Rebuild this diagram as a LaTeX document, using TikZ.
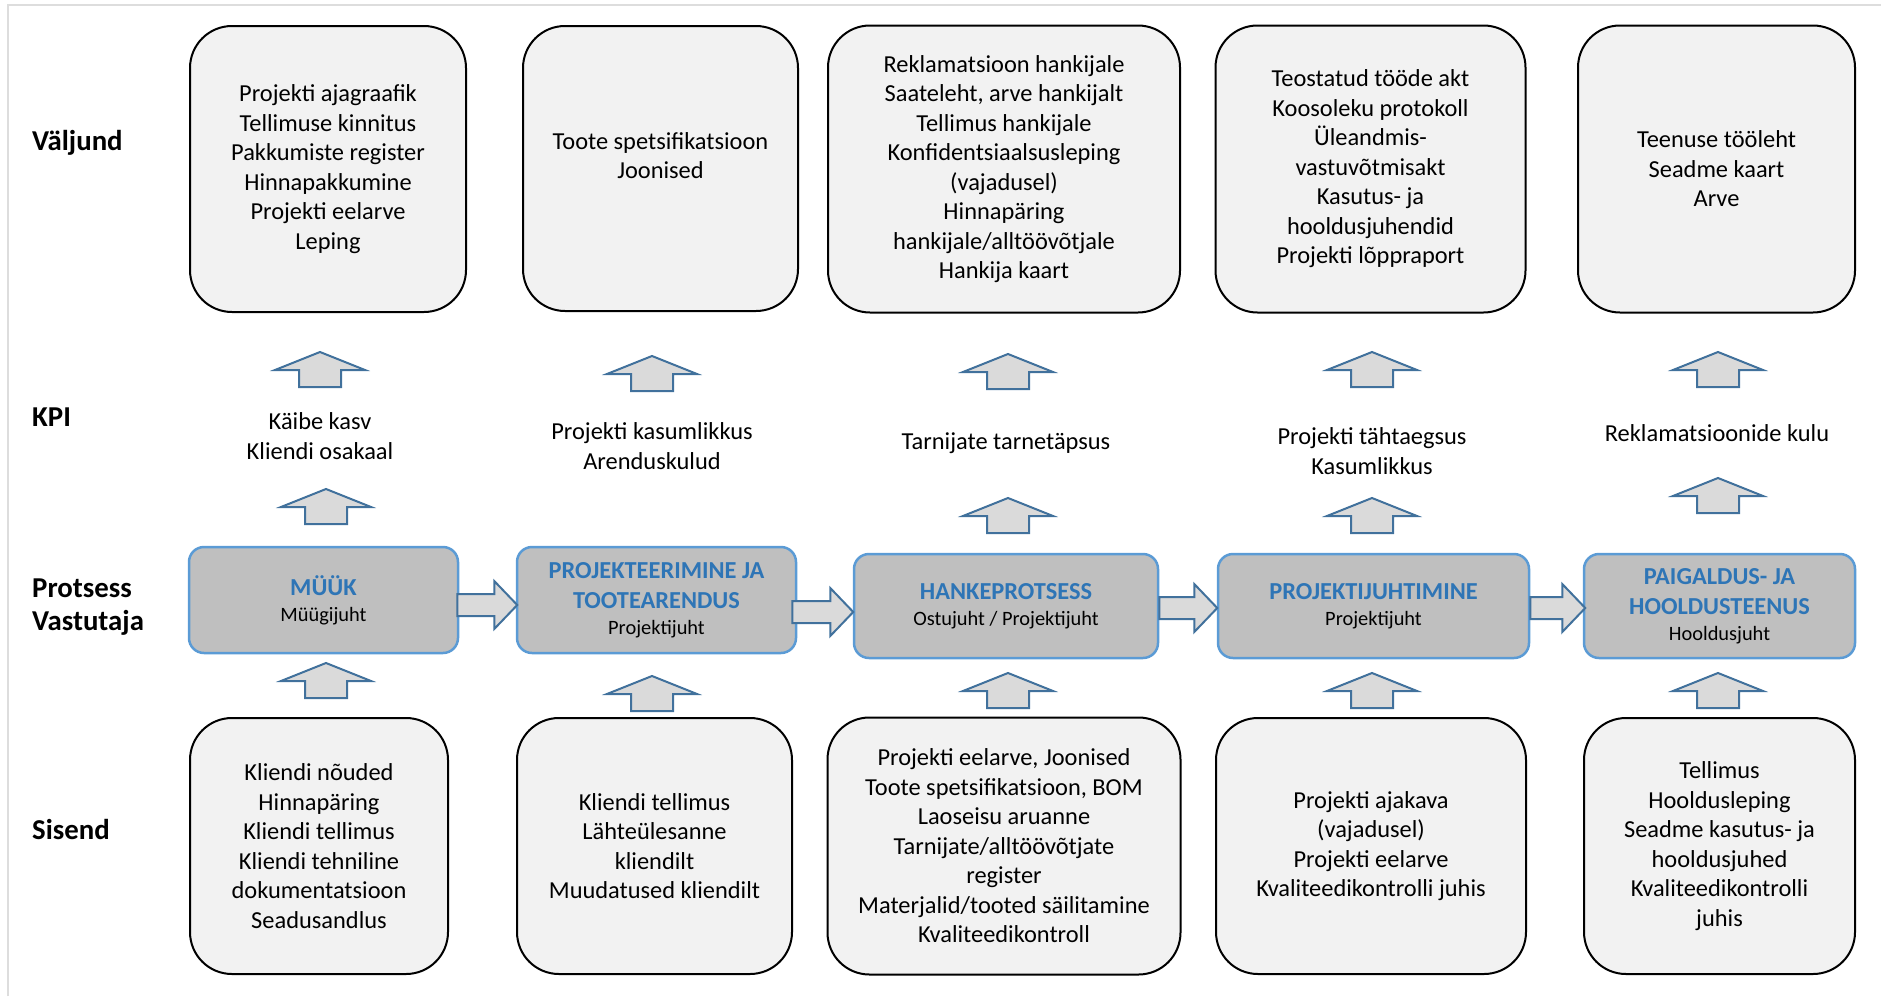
\documentclass[tikz,border=0pt]{standalone}
\usepackage{fontspec}
\setmainfont{Carlito}
\usetikzlibrary{calc}

\definecolor{boxfill}{HTML}{F2F2F2}
\definecolor{procfill}{HTML}{BFBFBF}
\definecolor{procline}{HTML}{5B9BD5}
\definecolor{proctitle}{HTML}{2E75B6}
\definecolor{arrfill}{HTML}{DADADA}
\definecolor{arrline}{HTML}{41719C}
\definecolor{framecol}{HTML}{DDDDDD}

\newcommand\ptitle[1]{{\fontsize{24.4}{26}\selectfont\bfseries\color{proctitle}#1}}

\tikzset{
  docbox/.style={draw=black, line width=2pt, fill=boxfill, rounded corners=42pt,
    inner sep=0pt, align=center, font=\fontsize{24.4}{29.5}\selectfont},
  proc/.style={draw=procline, line width=2.5pt, fill=procfill, rounded corners=15pt,
    inner sep=0pt, align=center, font=\fontsize{20.4}{26}\selectfont},
  body/.style={align=center, inner sep=0pt, font=\fontsize{24.4}{29.5}\selectfont},
  rowlabel/.style={anchor=west, align=left, inner sep=0pt,
    font=\fontsize{28.8}{32.5}\selectfont\bfseries},
  blockarrow/.style={draw=arrline, line width=2pt, fill=arrfill, line join=miter},
  pics/uparrow/.style={code={
    \draw[blockarrow] (-21,0) -- (-21,-17) -- (-45,-17) -- (0,-35)
      -- (45,-17) -- (21,-17) -- (21,0) -- cycle;}},
  pics/rarrow/.style={code={
    \draw[blockarrow] (0,-11) -- (#1-23,-11) -- (#1-23,-24) -- (#1,0)
      -- (#1-23,24) -- (#1-23,11) -- (0,11) -- cycle;}},
}

\begin{document}
\begin{tikzpicture}[x=1pt,y=-1pt]
\useasboundingbox (0,0) rectangle (1881,996);

% outer frame
\draw[framecol, line width=1.5pt] (8,996) -- (8,5) -- (1881,5);

% row labels
\node[rowlabel] (lout)  at (32,143) {Väljund};
\node[rowlabel] (lkpi)  at (32,417) {KPI};
\node[rowlabel] (lproc) at (32,607) {Protsess\\Vastutaja};
\node[rowlabel] (lin)   at (32,829) {Sisend};

% outputs
\node[docbox, minimum width=276pt, minimum height=286pt] (o1) at (328,169)
  {Projekti ajagraafik\\Tellimuse kinnitus\\Pakkumiste register\\Hinnapakkumine\\Projekti eelarve\\Leping};
\node[docbox, minimum width=275pt, minimum height=285pt] (o2) at (660.5,168.5) {};
\node[body] (o2t) at ($(o2.center)+(0,-13)$) {Toote spetsifikatsioon\\Joonised};
\node[docbox, minimum width=352pt, minimum height=287pt] (o3) at (1004,169)
  {Reklamatsioon hankijale\\Saateleht, arve hankijalt\\Tellimus hankijale\\Konfidentsiaalsusleping\\(vajadusel)\\Hinnapäring\\hankijale/alltöövõtjale\\Hankija kaart};
\node[docbox, minimum width=310pt, minimum height=287pt] (o4) at (1370.5,169)
  {Teostatud tööde akt\\Koosoleku protokoll\\Üleandmis-\\vastuvõtmisakt\\Kasutus- ja\\hooldusjuhendid\\Projekti lõppraport};
\node[docbox, minimum width=277pt, minimum height=287pt] (o5) at (1716.5,169)
  {Teenuse tööleht\\Seadme kaart\\Arve};

% KPI texts
\node[body] (k1) at (320,436) {Käibe kasv\\Kliendi osakaal};
\node[body] (k2) at (652,446) {Projekti kasumlikkus\\Arenduskulud};
\node[body] (k3) at (1006,443) {Tarnijate tarnetäpsus};
\node[body] (k4) at (1372,451) {Projekti tähtaegsus\\Kasumlikkus};
\node[body] (k5) at (1717,433) {Reklamatsioonide kulu};

% process chain
\node[proc, minimum width=269pt, minimum height=106pt] (p1) at (323.5,600)
  {\ptitle{MÜÜK}\\Müügijuht};
\node[proc, minimum width=279pt, minimum height=106pt] (p2) at (656.5,600)
  {\ptitle{PROJEKTEERIMINE JA}\\[4pt]\ptitle{TOOTEARENDUS}\\Projektijuht};
\node[proc, minimum width=304pt, minimum height=104pt] (p3) at (1006,606)
  {\ptitle{HANKEPROTSESS}\\Ostujuht / Projektijuht};
\node[proc, minimum width=311pt, minimum height=104pt] (p4) at (1373.5,606)
  {\ptitle{PROJEKTIJUHTIMINE}\\Projektijuht};
\node[proc, minimum width=271pt, minimum height=104pt] (p5) at (1719.5,606)
  {\ptitle{PAIGALDUS- JA}\\[4pt]\ptitle{HOOLDUSTEENUS}\\Hooldusjuht};

% inputs
\node[docbox, minimum width=258pt, minimum height=256pt] (i1) at (319,846)
  {Kliendi nõuded\\Hinnapäring\\Kliendi tellimus\\Kliendi tehniline\\dokumentatsioon\\Seadusandlus};
\node[docbox, minimum width=275pt, minimum height=256pt] (i2) at (654.5,846)
  {Kliendi tellimus\\Lähteülesanne\\kliendilt\\Muudatused kliendilt};
\node[docbox, minimum width=353pt, minimum height=257pt] (i3) at (1004,846)
  {Projekti eelarve, Joonised\\Toote spetsifikatsioon, BOM\\Laoseisu aruanne\\Tarnijate/alltöövõtjate\\register\\Materjalid/tooted säilitamine\\Kvaliteedikontroll};
\node[docbox, minimum width=310pt, minimum height=256pt] (i4) at (1371,846)
  {Projekti ajakava\\(vajadusel)\\Projekti eelarve\\Kvaliteedikontrolli juhis};
\node[docbox, minimum width=271pt, minimum height=256pt] (i5) at (1719.5,846)
  {Tellimus\\Hooldusleping\\Seadme kasutus- ja\\hooldusjuhed\\Kvaliteedikontrolli\\juhis};

% flow arrows between process steps
\path (p1.east) ++(-2,5)  pic {rarrow=60};
\path (p2.east) ++(-5,12) pic {rarrow=61};
\path (p3.east) ++(0,2)   pic {rarrow=58};
\path (p4.east) ++(0,2)   pic {rarrow=55};

% upward arrows: KPI -> output
\path (320,387)  pic {uparrow};
\path (652,391)  pic {uparrow};
\path (1008,389) pic {uparrow};
\path (1372,387) pic {uparrow};
\path (1718,387) pic {uparrow};

% upward arrows: process -> KPI
\path (326,524)  pic {uparrow};
\path (1008,533) pic {uparrow};
\path (1372,533) pic {uparrow};
\path (1718,513) pic {uparrow};

% upward arrows: input -> process
\path (326,698)  pic {uparrow};
\path (652,711)  pic {uparrow};
\path (1008,708) pic {uparrow};
\path (1372,708) pic {uparrow};
\path (1718,708) pic {uparrow};
\end{tikzpicture}
\end{document}
